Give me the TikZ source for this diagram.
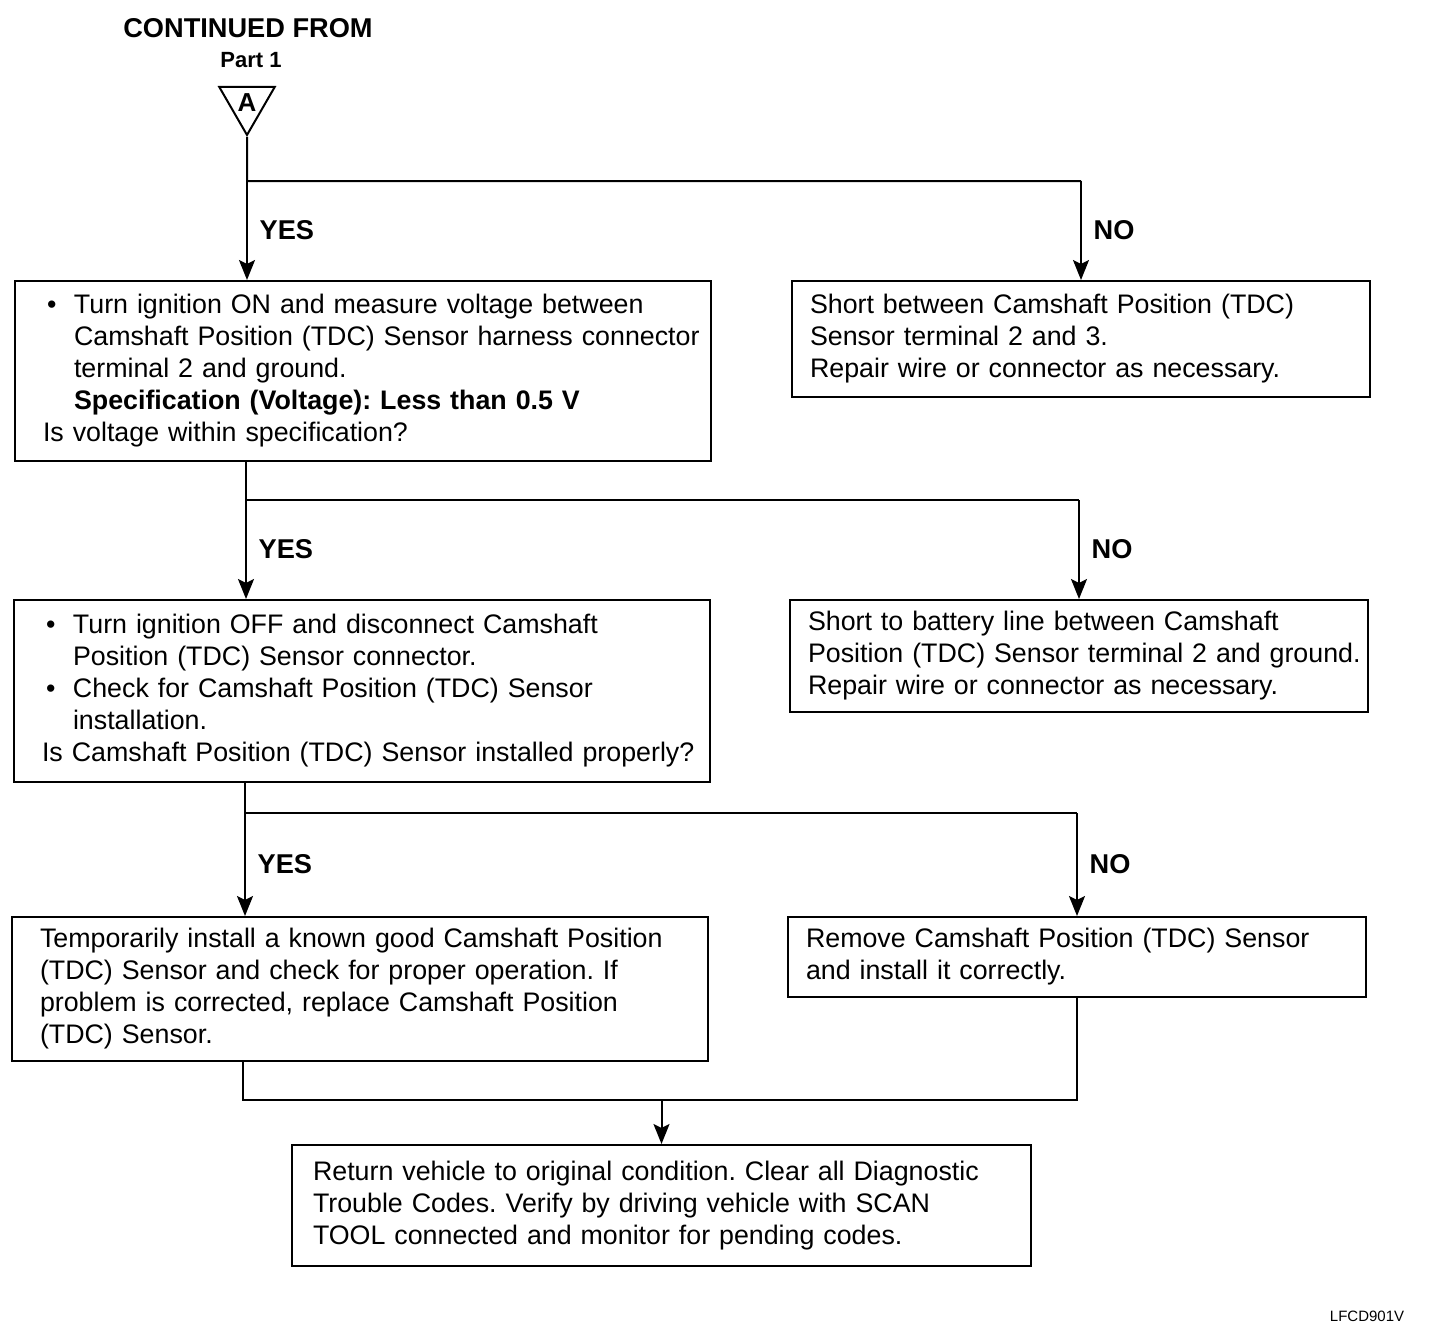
\documentclass[tikz,border=0pt]{standalone}
\usepackage{fontspec}
\setmainfont{Liberation Sans}
\usepackage{tikz}
\usetikzlibrary{arrows.meta,positioning,shapes.geometric,calc}

\newcommand{\bitem}{\makebox[15.5pt][l]{\hspace{2pt}\textbullet}}
\newcommand{\bindent}{\hspace*{15.5pt}}

\begin{document}
\begin{tikzpicture}[
  x=0.5pt, y=-0.5pt,
  every node/.style={font=\fontsize{13.4}{16}\selectfont\frenchspacing},
  checkbox/.style={draw, line width=1pt, align=left, text width=320pt, inner xsep=14pt},
  fixbox/.style={draw, line width=1pt, align=left, text width=271pt, inner xsep=9pt},
  endbox/.style={draw, line width=1pt, align=left, text width=348.5pt, inner xsep=10.5pt},
  title/.style={font=\fontsize{13.6}{16}\selectfont\bfseries},
  answer/.style={font=\fontsize{13.6}{16}\selectfont\bfseries, right=2.5pt},
  link/.style={line width=1pt},
  flow/.style={line width=1pt, -{Stealth[length=10pt,width=8pt,inset=2pt]}}
]
\useasboundingbox (0,0) rectangle (1456,1338);

\node[title] (contfrom) at (248,28) {CONTINUED FROM};
\node[font=\fontsize{11}{13}\selectfont\bfseries] (part) at (251,60) {Part 1};
\node[draw, line width=1pt, regular polygon, regular polygon sides=3, shape border rotate=180, minimum size=32pt, inner sep=0pt, font=\fontsize{13}{15}\selectfont\bfseries] (conA) at (247,103) {A};

\node[checkbox, minimum height=90pt, anchor=north west] (volt) at (14,280) {\bitem Turn ignition ON and measure voltage between\\
\bindent\mbox{Camshaft Position (TDC) Sensor harness connector}\\
\bindent terminal 2 and ground.\\
\bindent\textbf{Specification (Voltage): Less than 0.5 V}\\
Is voltage within specification?};
\node[fixbox, minimum height=58pt, below right=0pt and 39.5pt of volt.north east] (shortsig) {Short between Camshaft Position (TDC)\\
Sensor terminal 2 and 3.\\
Repair wire or connector as necessary.};
\node[checkbox, minimum height=91pt, below right=68.5pt and -0.5pt of volt.south west] (mount) {\bitem Turn ignition OFF and disconnect Camshaft\\
\bindent Position (TDC) Sensor connector.\\
\bitem Check for Camshaft Position (TDC) Sensor\\
\bindent installation.\\
\mbox{Is Camshaft Position (TDC) Sensor installed properly?}};
\node[fixbox, minimum height=56pt, below right=0pt and 39pt of mount.north east] (shortbat) {Short to battery line between Camshaft\\
\mbox{Position (TDC) Sensor terminal 2 and ground.}\\
Repair wire or connector as necessary.};
\node[checkbox, minimum height=72pt, below right=66.5pt and -1pt of mount.south west] (swap) {Temporarily install a known good Camshaft Position\\
(TDC) Sensor and check for proper operation. If\\
problem is corrected, replace Camshaft Position\\
(TDC) Sensor.};
\node[fixbox, minimum height=40pt, below right=0pt and 39pt of swap.north east] (reinstall) {Remove Camshaft Position (TDC) Sensor\\
and install it correctly.};
\node[endbox, minimum height=60.5pt, below right=41pt and 140pt of swap.south west] (restore) {Return vehicle to original condition. Clear all Diagnostic\\
Trouble Codes. Verify by driving vehicle with SCAN\\
TOOL connected and monitor for pending codes.};
\node[font=\fontsize{7.5}{9}\selectfont] (figid) at (1367,1316) {LFCD901V};

\coordinate (fork1) at (247,181);
\coordinate (out1) at ($(volt.south west)+(116pt,0)$);
\coordinate (fork2) at ($(out1)+(0,-19pt)$);
\coordinate (out2) at ($(mount.south west)+(116pt,0)$);
\coordinate (fork3) at ($(out2)+(0,-15pt)$);
\coordinate (out3) at ($(swap.south west)+(116pt,0)$);
\coordinate (merge) at ($(out3)+(0,-19pt)$);

\draw[link] (conA) -- (fork1) -- (fork1 -| shortsig.north);
\draw[flow] (fork1) -- node[answer] {YES} (fork1 |- volt.north);
\draw[flow] (fork1 -| shortsig.north) -- node[answer] {NO} (shortsig.north);
\draw[link] (out1) -- (fork2) -- (fork2 -| shortbat.north);
\draw[flow] (fork2) -- node[answer] {YES} (fork2 |- mount.north);
\draw[flow] (fork2 -| shortbat.north) -- node[answer] {NO} (shortbat.north);
\draw[link] (out2) -- (fork3) -- (fork3 -| reinstall.north);
\draw[flow] (fork3) -- node[answer] {YES} (fork3 |- swap.north);
\draw[flow] (fork3 -| reinstall.north) -- node[answer] {NO} (reinstall.north);
\draw[link] (out3) -- (merge) -| (reinstall.south);
\draw[flow] (merge -| restore.north) -- (restore.north);
\end{tikzpicture}
\end{document}
